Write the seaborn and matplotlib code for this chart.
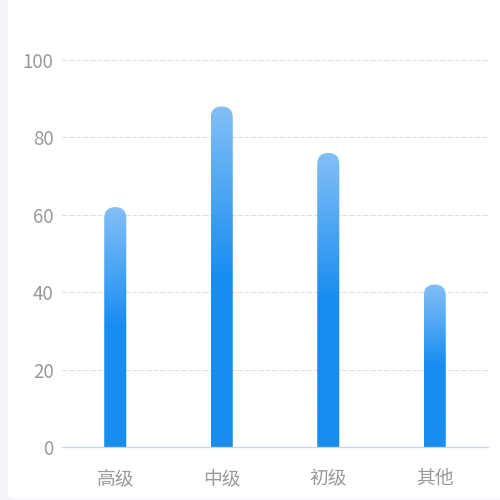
import matplotlib
matplotlib.use("Agg")
import matplotlib.pyplot as plt
import numpy as np
import seaborn as sns
from matplotlib.colors import LinearSegmentedColormap
from matplotlib.patches import FancyBboxPatch

categories = ["高级", "中级", "初级", "其他"]
values = [62, 88, 76, 42]
y_ticks = [0, 20, 40, 60, 80, 100]

sns.set_style("white")
plt.rcParams["font.family"] = ["Noto Sans CJK SC", "DejaVu Sans"]

fig = plt.figure(figsize=(5, 5), dpi=100, facecolor="#f3f4f9")
# white card with rounded left corners, drawn behind the axes
card = FancyBboxPatch((0.016, 0.003), 1.0, 1.0, boxstyle="round,pad=0,rounding_size=0.01",
                      transform=fig.transFigure, facecolor="white", edgecolor="none", zorder=-5)
fig.patches.append(card)

ax = fig.add_axes([0.124, 0.106, 0.852, 0.774])
ax.set_facecolor("none")
sns.barplot(x=categories, y=values, width=0.207, color="#188df0", ax=ax)
ax.set_xlim(-0.5, 3.5)
ax.set_ylim(0, 100)
ax.set_yticks(y_ticks)

# gradient: light top -> solid at half height -> solid bottom
cmap = LinearSegmentedColormap.from_list("bar", [(0, "#188df0"), (0.5, "#188df0"), (1, "#83bff6")])
grad = np.linspace(0, 1, 256).reshape(-1, 1)

# pixel aspect between data y units and x units
p0 = ax.transData.transform((0, 0))
p1 = ax.transData.transform((1, 1))
aspect = (p1[0] - p0[0]) / (p1[1] - p0[1])

for bar in ax.patches[:]:
    x, w, h = bar.get_x(), bar.get_width(), bar.get_height()
    bar.set_visible(False)
    r = w / 2
    clip = FancyBboxPatch((x, -r * aspect), w, h + r * aspect,
                          boxstyle=f"round,pad=0,rounding_size={r}",
                          mutation_aspect=aspect, transform=ax.transData,
                          facecolor="none", edgecolor="none")
    ax.add_patch(clip)
    im = ax.imshow(grad, extent=(x, x + w, 0, h), origin="lower", cmap=cmap,
                   aspect="auto", interpolation="bilinear", zorder=2)
    im.set_clip_path(clip)

ax.set_xlim(-0.5, 3.5)
ax.set_ylim(0, 100)

ax.grid(axis="y", color="#d3dfe9", linestyle=(0, (5, 2)), linewidth=0.72, zorder=0)
ax.set_axisbelow(True)
ax.grid(axis="x", visible=False)

for side in ["top", "right", "left"]:
    ax.spines[side].set_visible(False)
ax.spines["bottom"].set_color("#ccd5e2")
ax.spines["bottom"].set_linewidth(0.9)

ax.tick_params(axis="both", length=0, labelsize=13.5, colors="#999999")
ax.tick_params(axis="y", pad=6)
ax.tick_params(axis="x", pad=15)
ax.set_xlabel("")
ax.set_ylabel("")

fig.savefig("out.png", dpi=100, facecolor=fig.get_facecolor())
